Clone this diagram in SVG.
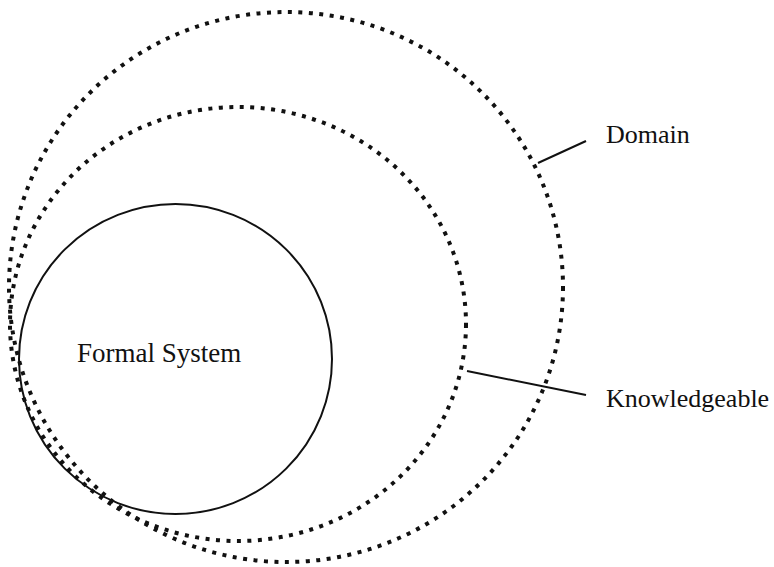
<svg xmlns="http://www.w3.org/2000/svg" width="774" height="567" viewBox="0 0 774 567">
<style>
.dot{fill:none;stroke:#111;stroke-width:4;stroke-dasharray:4 6.5}
.solid{fill:none;stroke:#111;stroke-width:2}
.lbl{font-family:"Liberation Serif","Times New Roman",serif;font-size:26px;fill:#111}
</style>
<rect width="774" height="567" fill="#fff"/>
<g id="domain"><ellipse class="dot" cx="286" cy="287" rx="277" ry="275"/><text class="lbl" x="606" y="143">Domain</text></g>
<g id="knowledgeable"><ellipse class="dot" cx="238" cy="324" rx="228" ry="217"/><text class="lbl" x="606" y="407">Knowledgeable</text></g>
<g id="formal-system"><ellipse class="solid" cx="175.5" cy="359" rx="156.5" ry="155"/><text class="lbl" x="77" y="362" style="font-size:27px">Formal System</text></g>
<g id="connectors">
<line class="solid" x1="538" y1="163" x2="586" y2="141"/>
<line class="solid" x1="467" y1="371" x2="586" y2="395"/>
</g>
</svg>
